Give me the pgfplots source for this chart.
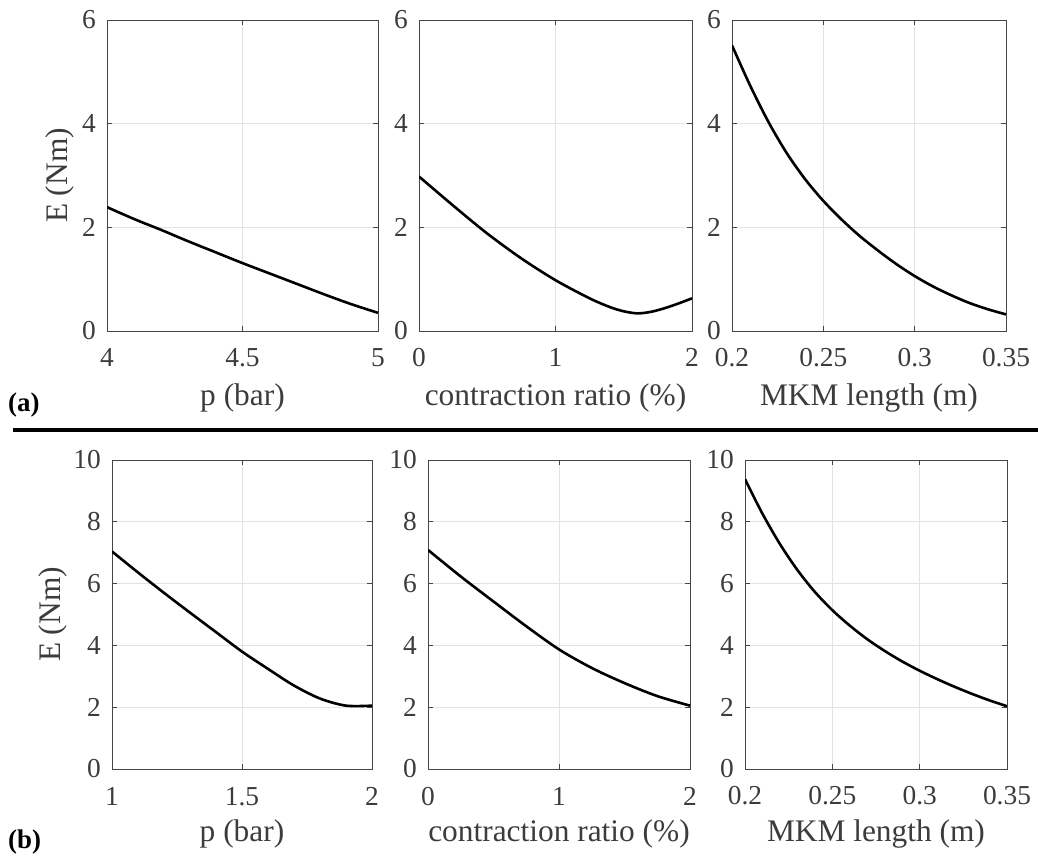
\documentclass[border=0pt]{standalone}
\usepackage{fontspec}
\setmainfont{Liberation Serif}
\usepackage{pgfplots}
\pgfplotsset{compat=1.18}
\definecolor{txt}{RGB}{60,60,60}
\definecolor{framec}{RGB}{70,70,70}
\definecolor{gridc}{RGB}{226,226,226}
\pgfplotsset{
 panel/.style={
  scale only axis, anchor=south west,
  axis line style={framec, line width=0.9bp},
  tick style={framec, line width=0.9bp},
  tick align=inside, major tick length=5bp,
  xtick pos=both, ytick pos=both,
  xticklabel pos=lower, yticklabel pos=left,
  grid=major, major grid style={gridc, line width=0.9bp},
  ticklabel style={font=\fontsize{27.5}{30}\selectfont, text=txt},
  xticklabel style={anchor=base, yshift=-36bp, inner sep=0pt},
  yticklabel style={anchor=east, xshift=-11bp, inner sep=0pt},
  label style={font=\fontsize{31.5}{34}\selectfont, text=txt, inner sep=0pt},
 },
 curve/.style={black, line width=2.6bp, smooth, no markers},
}
\begin{document}
\begin{tikzpicture}
\useasboundingbox (0bp,0bp) rectangle (1038bp,864bp);
% ---------- top row ----------
\begin{axis}[panel, at={(107bp,533bp)}, width=271bp, height=311bp,
  xmin=4, xmax=5, ymin=0, ymax=6,
  xtick={4,4.5,5}, xticklabels={4,4.5,5},
  ytick={0,2,4,6}, yticklabels={0,2,4,6},
  xlabel={p (bar)}, ylabel={E (Nm)},
  xlabel style={at={(axis description cs:0.5,-0.238)}, anchor=base},
  ylabel style={at={(axis description cs:-0.144,0.5)}, anchor=base}]
\addplot[curve] coordinates {(4,2.39) (4.1,2.16) (4.2,1.95) (4.3,1.73) (4.4,1.52) (4.5,1.31) (4.6,1.11) (4.7,0.91) (4.8,0.71) (4.9,0.52) (5,0.35)};
\end{axis}
\begin{axis}[panel, at={(419bp,533bp)}, width=273bp, height=311bp,
  xmin=0, xmax=2, ymin=0, ymax=6,
  xtick={0,1,2}, xticklabels={0,1,2},
  ytick={0,2,4,6}, yticklabels={0,2,4,6},
  xlabel={contraction ratio (\%)},
  xlabel style={at={(axis description cs:0.5,-0.238)}, anchor=base}]
\addplot[curve] coordinates {(0,2.98) (0.25,2.42) (0.5,1.88) (0.75,1.40) (1,0.98) (1.25,0.63) (1.4,0.46) (1.5,0.38) (1.6,0.34) (1.7,0.37) (1.8,0.44) (1.9,0.53) (2,0.63)};
\end{axis}
\begin{axis}[panel, at={(732bp,533bp)}, width=274bp, height=311bp,
  xmin=0.2, xmax=0.35, ymin=0, ymax=6,
  xtick={0.2,0.25,0.3,0.35}, xticklabels={0.2,0.25,0.3,0.35},
  ytick={0,2,4,6}, yticklabels={0,2,4,6},
  xlabel={MKM length (m)},
  xlabel style={at={(axis description cs:0.5,-0.238)}, anchor=base}]
\addplot[curve] coordinates {(0.2,5.51) (0.21,4.73) (0.22,4.03) (0.23,3.43) (0.24,2.93) (0.25,2.51) (0.26,2.15) (0.27,1.83) (0.28,1.55) (0.29,1.29) (0.3,1.06) (0.31,0.86) (0.32,0.69) (0.33,0.54) (0.34,0.42) (0.35,0.32)};
\end{axis}
% ---------- bottom row ----------
\begin{axis}[panel, at={(112bp,95bp)}, width=260bp, height=309bp,
  xmin=1, xmax=2, ymin=0, ymax=10,
  xtick={1,1.5,2}, xticklabels={1,1.5,2},
  ytick={0,2,4,6,8,10}, yticklabels={0,2,4,6,8,10},
  xlabel={p (bar)}, ylabel={E (Nm)},
  xlabel style={at={(axis description cs:0.5,-0.236)}, anchor=base},
  ylabel style={at={(axis description cs:-0.2,0.5)}, anchor=base}]
\addplot[curve] coordinates {(1,7.04) (1.1,6.36) (1.2,5.70) (1.3,5.06) (1.4,4.43) (1.5,3.80) (1.6,3.24) (1.7,2.70) (1.8,2.28) (1.9,2.05) (2,2.05)};
\end{axis}
\begin{axis}[panel, at={(428bp,95bp)}, width=262bp, height=309bp,
  xmin=0, xmax=2, ymin=0, ymax=10,
  xtick={0,1,2}, xticklabels={0,1,2},
  ytick={0,2,4,6,8,10}, yticklabels={0,2,4,6,8,10},
  xlabel={contraction ratio (\%)},
  xlabel style={at={(axis description cs:0.5,-0.236)}, anchor=base}]
\addplot[curve] coordinates {(0,7.09) (0.25,6.23) (0.5,5.42) (0.75,4.62) (1,3.87) (1.25,3.27) (1.5,2.78) (1.75,2.36) (2,2.05)};
\end{axis}
\begin{axis}[panel, at={(745bp,95bp)}, width=262bp, height=309bp,
  xmin=0.2, xmax=0.35, ymin=0, ymax=10,
  xtick={0.2,0.25,0.3,0.35}, xticklabels={0.2,0.25,0.3,0.35},
  ytick={0,2,4,6,8,10}, yticklabels={0,2,4,6,8,10},
  xlabel={MKM length (m)},
  xlabel style={at={(axis description cs:0.5,-0.236)}, anchor=base}]
\addplot[curve] coordinates {(0.2,9.38) (0.21,8.26) (0.22,7.28) (0.23,6.44) (0.24,5.73) (0.25,5.14) (0.26,4.64) (0.27,4.20) (0.28,3.82) (0.29,3.48) (0.3,3.18) (0.31,2.91) (0.32,2.66) (0.33,2.43) (0.34,2.22) (0.35,2.03)};
\end{axis}
% ---------- panel letters and separator ----------
\node[anchor=base west, inner sep=0pt, font=\bfseries\fontsize{27}{30}\selectfont] at (8bp,452bp) {(a)};
\node[anchor=base west, inner sep=0pt, font=\bfseries\fontsize{27}{30}\selectfont] at (8bp,16bp) {(b)};
\draw[line width=4bp] (13bp,434bp) -- (1038bp,434bp);
\end{tikzpicture}
\end{document}
